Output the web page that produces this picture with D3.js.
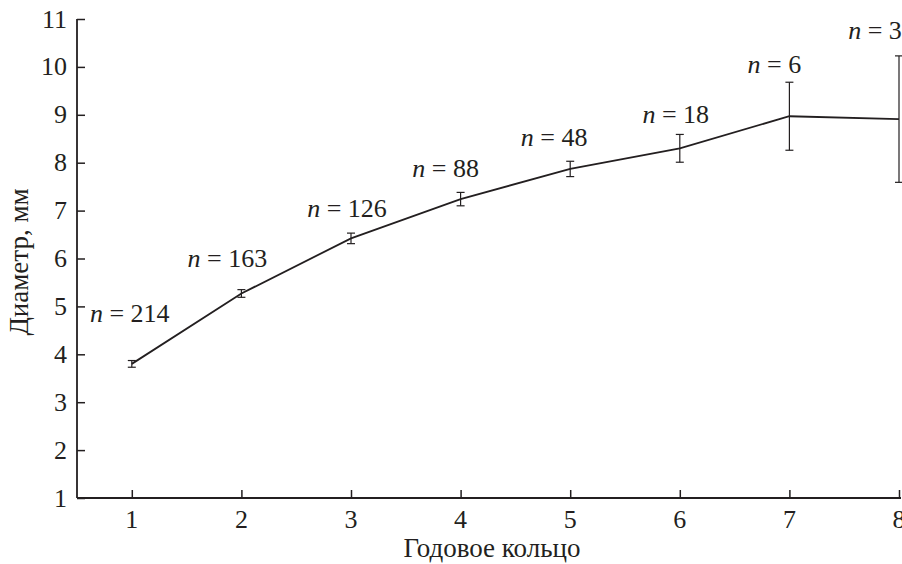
<!DOCTYPE html>
<html>
<head>
<meta charset="utf-8">
<script src="https://cdn.jsdelivr.net/npm/d3@7"></script>
<style>
  body { margin: 0; background: #fff; }
</style>
</head>
<body>
<div id="chart"></div>
<script>
// годовые кольца и средний диаметр
const rings = [1, 2, 3, 4, 5, 6, 7, 8];
const diam = [3.80, 5.27, 6.42, 7.24, 7.87, 8.30, 8.97, 8.91];
const err = [0.07, 0.08, 0.11, 0.14, 0.16, 0.29, 0.71, 1.32];
const counts = [214, 163, 126, 88, 48, 18, 6, 3];
const yTicks = [1, 2, 3, 4, 5, 6, 7, 8, 9, 10, 11];

// сдвиги подписей n = ... от точки (px)
const labelDx = [-2, -14, -4, -15, -16, -4, -15, -24];
const labelDy = [-42, -26, -21, -22, -23, -25, -43, -80];

const W = 902, H = 564;
const fontSize = 26;
const titleSize = 27;
const ink = "#231f20";
const serif = "'Liberation Serif', 'Times New Roman', Times, 'DejaVu Serif', serif";

const svg = d3.select("#chart").append("svg")
  .attr("width", W).attr("height", H)
  .attr("font-family", serif)
  .style("font-family", serif);

const x = d3.scaleLinear().domain([0.5, 8]).range([77, 899]);
const y = d3.scaleLinear().domain([1, 11]).range([498, 19]);

// оси
const yAxis = svg.append("g")
  .attr("transform", `translate(${x(0.5)},0)`)
  .call(d3.axisRight(y).tickValues(yTicks).tickSize(8).tickFormat(""));
yAxis.select(".domain").remove();
yAxis.selectAll(".tick line").attr("stroke", ink).attr("stroke-width", 1.5);

const xAxis = svg.append("g")
  .attr("transform", `translate(0,${y(1)})`)
  .call(d3.axisTop(x).tickValues(rings).tickSize(8).tickFormat(""));
xAxis.select(".domain").remove();
xAxis.selectAll(".tick line").attr("stroke", ink).attr("stroke-width", 1.5);

svg.append("line")
  .attr("x1", x(0.5)).attr("x2", x(0.5))
  .attr("y1", y(11)).attr("y2", y(1))
  .attr("stroke", ink).attr("stroke-width", 1.8);
svg.append("line")
  .attr("x1", x(0.5)).attr("x2", x(8) + 2)
  .attr("y1", y(1)).attr("y2", y(1))
  .attr("stroke", ink).attr("stroke-width", 1.8);

// подписи делений
svg.append("g").selectAll("text").data(yTicks).join("text")
  .attr("x", x(0.5) - 10).attr("y", d => y(d) + 8.5)
  .attr("text-anchor", "end").attr("font-size", fontSize)
  .attr("fill", ink)
  .text(d => d);

svg.append("g").selectAll("text").data(rings).join("text")
  .attr("x", d => x(d)).attr("y", y(1) + 30)
  .attr("text-anchor", "middle").attr("font-size", fontSize)
  .attr("fill", ink)
  .text(d => d);

// названия осей
svg.append("text")
  .attr("x", 492).attr("y", 557)
  .attr("text-anchor", "middle").attr("font-size", titleSize)
  .attr("fill", ink)
  .text("Годовое кольцо");

svg.append("text")
  .attr("transform", `translate(28,262) rotate(-90)`)
  .attr("text-anchor", "middle").attr("font-size", titleSize)
  .attr("fill", ink)
  .text("Диаметр, мм");

// линия
const pts = rings.map((r, i) => [r, diam[i]]);
svg.append("path")
  .datum(pts)
  .attr("fill", "none").attr("stroke", ink).attr("stroke-width", 1.8)
  .attr("d", d3.line().x(d => x(d[0])).y(d => y(d[1])));

// планки погрешностей
const eb = svg.append("g").attr("stroke", ink).attr("stroke-width", 1.2);
rings.forEach((r, i) => {
  const cx = x(r), y0 = y(diam[i] - err[i]), y1 = y(diam[i] + err[i]);
  eb.append("line").attr("x1", cx).attr("x2", cx).attr("y1", y0).attr("y2", y1);
  eb.append("line").attr("x1", cx - 4).attr("x2", cx + 4).attr("y1", y0).attr("y2", y0);
  eb.append("line").attr("x1", cx - 4).attr("x2", cx + 4).attr("y1", y1).attr("y2", y1);
});

// подписи n
const lab = svg.append("g").selectAll("text").data(rings).join("text")
  .attr("x", (d, i) => x(d) + labelDx[i])
  .attr("y", (d, i) => y(diam[i]) + labelDy[i])
  .attr("text-anchor", "middle").attr("font-size", fontSize)
  .attr("fill", ink);
lab.append("tspan").attr("font-style", "italic").text("n");
lab.append("tspan").text((d, i) => " = " + counts[i]);
</script>
</body>
</html>
